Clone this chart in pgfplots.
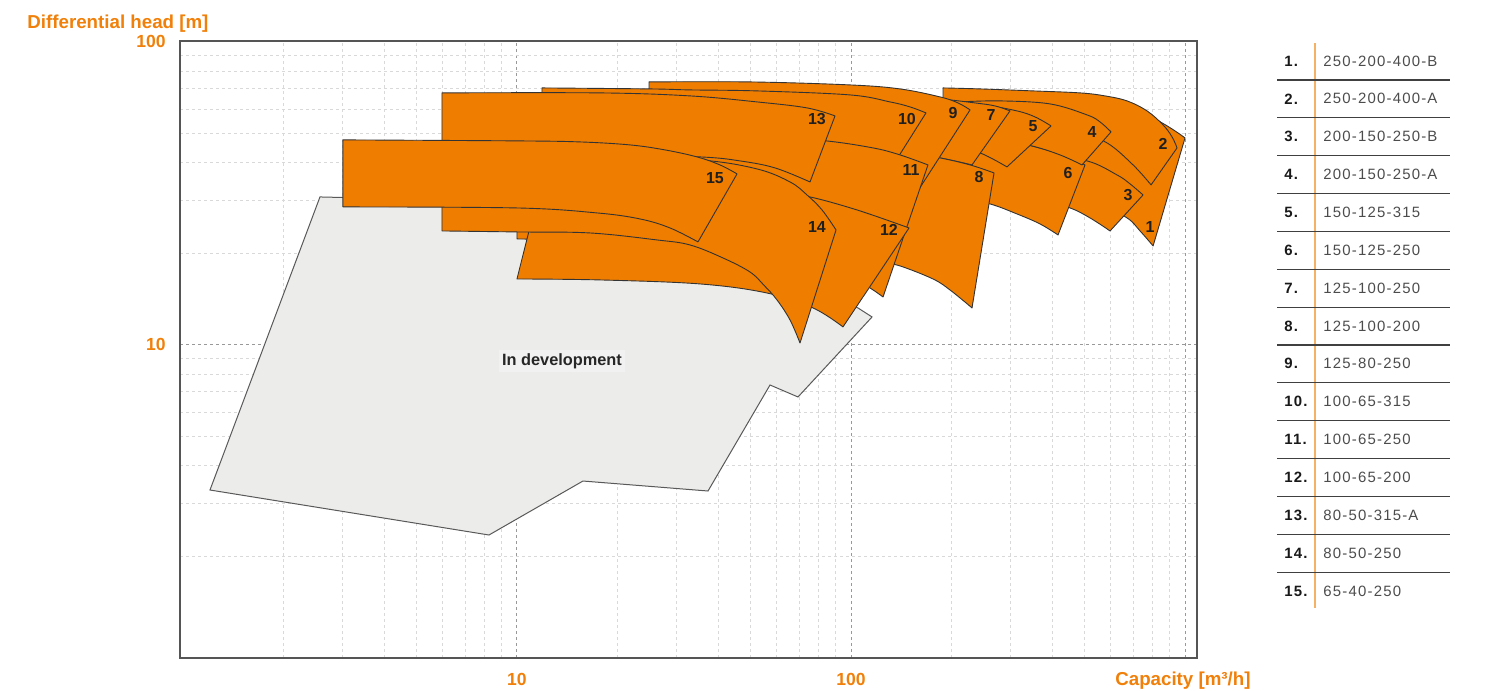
\documentclass[border=0pt]{standalone}
\usepackage{fontspec}
\setmainfont{Liberation Sans}
\newfontfamily\legfont[LetterSpace=8]{Liberation Sans}
\usepackage{pgfplots}
\pgfplotsset{compat=1.18}
\usepgfplotslibrary{fillbetween}
\definecolor{orng}{RGB}{238,125,0}
\definecolor{orngtxt}{RGB}{240,128,10}
\definecolor{devgray}{RGB}{236,236,235}
\definecolor{framegray}{RGB}{85,85,85}
\tikzset{
  lbl/.style={font=\fontsize{8}{9}\selectfont\bfseries, text=black!88, inner sep=0pt},
}
\pgfplotsset{
  crv/.style={draw=none, smooth, tension=0.6},
  shp/.style={fill=orng, draw=black!80, line width=0.45bp, line join=round},
}
\begin{document}
\begin{tikzpicture}
\path (0,0) rectangle (743.5bp,345.5bp);
\begin{axis}[
  set layers,
  at={(90bp,16.5bp)}, anchor=south west,
  scale only axis, width=508.5bp, height=308.5bp,
  xmode=log, ymode=log,
  xmin=0.98, xmax=1086, ymin=0.927, ymax=100.7,
  xtick={10,100,1000}, xticklabels={10,100,{}},
  ytick={10,100}, yticklabels={10,100},
  minor xtick={2,3,4,5,6,7,8,9,20,30,40,50,60,70,80,90,200,300,400,500,600,700,800,900},
  minor ytick={2,3,4,5,6,7,8,9,20,30,40,50,60,70,80,90},
  grid=both,
  major grid style={gray!80, dash pattern=on 1.5bp off 1.5bp, line width=0.5bp},
  minor grid style={gray!30, dash pattern=on 1.5bp off 1.5bp, line width=0.45bp},
  major tick length=0pt, minor tick length=0pt,
  axis line style={draw=framegray, line width=1.25bp},
  tick label style={font=\fontsize{8.8}{10}\selectfont\bfseries, text=orngtxt},
  xticklabel style={anchor=base, inner sep=0pt, yshift=-13.75bp},
  yticklabel style={anchor=east, inner sep=0pt, xshift=-7bp},
  no markers,
]
% In development area
\addplot[on layer=pre main, fill=devgray, draw=black!65, line width=0.5bp] coordinates {
(2.572,30.79) (25.02,28.97) (104.9,13.25) (115.6,12.37) (69.40,6.736) (57.22,7.379)
(37.32,3.297) (15.76,3.557) (8.245,2.360) (1.205,3.322)} -- cycle;
% 1: 250-200-400-B
\addplot[crv, name path=t1] coordinates {(178.4,64.36) (279.3,66.35) (394.3,66.35) (519.5,65.35) (639.0,62.44) (759.2,57.87) (853.6,54.04) (933.5,50.85) (1000,48.23)};
\addplot[crv, name path=b1] coordinates {(178.4,32.49) (279.3,32.49) (422.4,31.26) (556.6,28.97) (670.6,26.25) (733.5,23.78) (802.4,21.22)};
\addplot[shp] fill between[of=t1 and b1];
% 2: 250-200-400-A
\addplot[crv, name path=t2] coordinates {(188.6,70.50) (243.4,69.97) (350.7,68.92) (484.9,67.88) (576.2,66.35) (670.6,63.88) (769.8,59.20) (859.5,53.22) (914.4,48.59) (946.4,44.69)};
\addplot[crv, name path=b2] coordinates {(188.6,52.02) (260.8,52.02) (368.0,51.23) (484.9,49.71) (584.2,46.42) (698.9,39.28) (791.3,33.74)};
\addplot[shp] fill between[of=t2 and b2];
% 3: 200-150-250-B
\addplot[crv, name path=t3] coordinates {(212.0,44.02) (279.3,43.35) (368.0,42.38) (508.9,40.49) (625.8,36.40) (684.6,34.00) (748.8,31.26)};
\addplot[crv, name path=b3] coordinates {(212.0,31.02) (279.3,31.02) (368.0,30.10) (452.6,28.32) (519.5,26.25) (596.4,23.78)};
\addplot[shp] fill between[of=t3 and b3];
% 6: 150-125-250
\addplot[crv, name path=t6] coordinates {(212.0,51.23) (279.3,48.59) (348.3,45.37) (422.4,42.70) (501.9,39.28)};
\addplot[crv, name path=b6] coordinates {(212.0,30.56) (260.8,29.20) (314.0,27.06) (368.0,25.08) (416.7,23.07)};
\addplot[shp] fill between[of=t6 and b6];
% 4: 200-150-250-A
\addplot[crv, name path=t4] coordinates {(212.0,63.40) (279.3,63.88) (394.3,62.44) (508.9,57.43) (556.6,54.45) (600.4,50.47)};
\addplot[crv, name path=b4] coordinates {(212.0,48.23) (279.3,47.50) (348.3,45.37) (422.4,42.38) (491.6,39.28)};
\addplot[shp] fill between[of=t4 and b4];
% 5: 150-125-315
\addplot[crv, name path=t5] coordinates {(197.9,62.44) (248.5,61.96) (314.0,59.20) (355.6,56.56) (397.1,52.82)};
\addplot[crv, name path=b5] coordinates {(197.9,45.72) (243.4,43.03) (293.1,38.69)};
\addplot[shp] fill between[of=t5 and b5];
% 7: 125-100-250
\addplot[crv, name path=t7] coordinates {(140.2,66.35) (184.7,64.86) (235.1,62.91) (269.9,61.49) (299.2,59.20)};
\addplot[crv, name path=b7] coordinates {(140.2,43.35) (184.7,41.42) (230.3,39.28)};
\addplot[shp] fill between[of=t7 and b7];
% 8: 125-100-200
\addplot[crv, name path=t8] coordinates {(122.1,44.69) (140.2,43.68) (184.7,41.42) (227.2,39.28) (268.0,36.96)};
\addplot[crv, name path=b8] coordinates {(122.1,18.79) (140.2,18.23) (176.0,16.51) (197.9,15.19) (230.3,13.25)};
\addplot[shp] fill between[of=t8 and b8];
% 9: 125-80-250
\addplot[crv, name path=t9] coordinates {(24.85,73.79) (49.85,73.79) (99.31,72.13) (140.2,69.97) (184.7,65.85) (209.1,62.91) (227.2,59.66)};
\addplot[crv, name path=b9] coordinates {(24.85,45.72) (35.31,44.02) (70.37,37.81) (122.1,32.49) (152.3,30.10)};
\addplot[shp] fill between[of=t9 and b9];
% 10: 100-65-315
\addplot[crv, name path=t10] coordinates {(11.88,70.50) (25.02,69.97) (32.96,69.44) (52.31,68.92) (99.31,66.85) (130.9,63.39) (150.2,61.03) (167.7,58.31)};
\addplot[crv, name path=b10] coordinates {(11.88,44.02) (35.31,41.42) (70.37,39.28) (130.9,37.81)};
\addplot[shp] fill between[of=t10 and b10];
% 11: 100-65-250
\addplot[crv, name path=t11] coordinates {(10,49.33) (17.72,48.96) (35.31,48.23) (61.30,47.86) (84.17,47.14) (116.4,44.69) (140.2,42.38) (170.0,39.28)};
\addplot[crv, name path=b11] coordinates {(10,22.38) (17.72,22.04) (35.31,21.06) (70.37,18.79) (99.31,16.77) (114.0,15.42) (124.7,14.40)};
\addplot[shp] fill between[of=t11 and b11];
% 12: 100-65-200
\addplot[crv, name path=t12] coordinates {(11.56,31.26) (25.02,31.26) (49.85,31.02) (65.69,31.02) (75.39,30.79) (104.2,27.90) (149.2,24.33)};
\addplot[crv, name path=b12] coordinates {(10,16.51) (17.72,16.39) (35.31,15.90) (56.04,14.84) (76.96,13.25) (94.63,11.47)};
\addplot[shp] fill between[of=t12 and b12];
% 13: 80-50-315-A
\addplot[crv, name path=t13] coordinates {(5.963,67.88) (17.72,67.88) (32.96,66.35) (52.31,63.39) (73.85,60.57) (89.56,56.99)};
\addplot[crv, name path=b13] coordinates {(5.963,43.03) (17.72,42.70) (35.31,41.74) (46.53,40.49) (59.23,38.39) (75.39,34.51)};
\addplot[shp] fill between[of=t13 and b13];
% 14: 80-50-250
\addplot[crv, name path=t14] coordinates {(5.963,42.38) (17.72,42.06) (35.31,40.80) (52.31,38.10) (65.69,34.51) (73.85,31.26) (81.89,27.90) (90.19,23.96)};
\addplot[crv, name path=b14] coordinates {(5.963,23.78) (10,23.60) (16.54,23.42) (26.26,22.21) (32.96,21.38) (41.38,19.37) (49.85,17.41) (55.0,15.70) (60.04,14.08) (65.69,12.09) (70.37,10.15)};
\addplot[shp] fill between[of=t14 and b14];
% 15: 65-40-250
\addplot[crv, name path=t15] coordinates {(3.013,47.50) (10,47.14) (15.44,46.77) (21.80,45.72) (27.74,44.02) (34.59,41.74) (40.53,39.28) (45.58,36.68)};
\addplot[crv, name path=b15] coordinates {(3.013,28.54) (10,28.32) (17.36,27.27) (23.36,26.05) (28.72,24.33) (34.83,21.88)};
\addplot[shp] fill between[of=t15 and b15];
% labels
\node[lbl] at (axis cs:785.8,24.51) {1};
\node[lbl] at (axis cs:859.5,46.06) {2};
\node[lbl] at (axis cs:675.2,31.26) {3};
\node[lbl] at (axis cs:526.7,50.47) {4};
\node[lbl] at (axis cs:350.7,52.82) {5};
\node[lbl] at (axis cs:446.4,36.96) {6};
\node[lbl] at (axis cs:262.6,57.43) {7};
\node[lbl] at (axis cs:241.7,35.85) {8};
\node[lbl] at (axis cs:202.0,58.31) {9};
\node[lbl] at (axis cs:147.1,55.70) {10};
\node[lbl] at (axis cs:151.2,37.81) {11};
\node[lbl] at (axis cs:129.9,23.96) {12};
\node[lbl] at (axis cs:79.10,55.70) {13};
\node[lbl] at (axis cs:79.10,24.51) {14};
\node[lbl] at (axis cs:39.16,35.58) {15};
\node[font=\fontsize{8.2}{10}\selectfont\bfseries, text=black!85, fill=white, fill opacity=0.3, text opacity=1, inner sep=1.5bp] at (axis cs:13.64,8.85) {In development};
\end{axis}
% axis titles
\node[anchor=base west, inner sep=0pt, font=\fontsize{9.4}{11}\selectfont\bfseries, text=orngtxt] at (13.5bp,331.4bp) {Differential head [m]};
\node[anchor=base east, inner sep=0pt, font=\fontsize{9.4}{11}\selectfont\bfseries, text=orngtxt] at (625.5bp,3bp) {Capacity [m³/h]};
% legend table
\draw[orng!60, line width=0.75bp] (657.5bp,324bp) -- (657.5bp,41.5bp);
\foreach \i/\name in {1/250-200-400-B,2/250-200-400-A,3/200-150-250-B,4/200-150-250-A,5/150-125-315,6/150-125-250,7/125-100-250,8/125-100-200,9/125-80-250,10/100-65-315,11/100-65-250,12/100-65-200,13/80-50-315-A,14/80-50-250,15/65-40-250}{
  \pgfmathsetmacro{\yy}{(691-(61+37.857*(\i-1)))*0.5}
  \node[anchor=west, inner sep=0pt, font=\legfont\fontsize{7.5}{9}\selectfont\bfseries, text=black!90] at (642bp,\yy bp) {\i.};
  \node[anchor=west, inner sep=0pt, font=\legfont\fontsize{7.5}{9}\selectfont, text=black!70] at (661.5bp,\yy bp) {\name};
}
\foreach \i in {1,...,14}{
  \pgfmathsetmacro{\yy}{(691-(80+37.857*(\i-1)))*0.5}
  \draw[black!75, line width=0.6bp] (638.5bp,\yy bp) -- (725bp,\yy bp);
}
\end{tikzpicture}
\end{document}
